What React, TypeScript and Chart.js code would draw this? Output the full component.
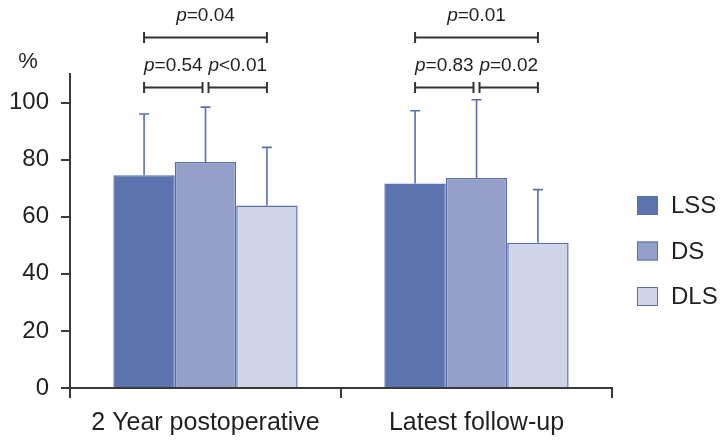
import React, { useEffect, useRef } from "react";
import { Chart, registerables } from "chart.js";

Chart.register(...registerables);

const categories = ["2 Year postoperative", "Latest follow-up"];
const seriesNames = ["LSS", "DS", "DLS"];
const lssMean = [74.5, 71.6];
const lssSD = [21.5, 25.5];
const dsMean = [79.2, 73.6];
const dsSD = [19.2, 27.4];
const dlsMean = [63.9, 50.9];
const dlsSD = [20.4, 18.6];
const yTickValues = [0, 20, 40, 60, 80, 100];
const yUnit = "%";

// significance comparisons: category index, from series, to series, level, operator, value
const compCategory = [0, 0, 0, 1, 1, 1];
const compFrom = [0, 0, 1, 0, 0, 1];
const compTo = [2, 1, 2, 2, 1, 2];
const compLevel = ["upper", "lower", "lower", "upper", "lower", "lower"];
const compOp = ["=", "=", "<", "=", "=", "="];
const compValue = ["0.04", "0.54", "0.01", "0.01", "0.83", "0.02"];

const fills = ["#5b73ae", "#949fca", "#d1d5ea"];
const edge = "#5a6fab";
const axisColor = "#3a3a3a";
const textColor = "#231f20";
const FONT = "'Liberation Sans', Arial, Helvetica, sans-serif";

const sds = [lssSD, dsSD, dlsSD];

const overlay = {
  id: "overlay",
  afterDraw(chart: any) {
    const ctx = chart.ctx;
    const y = chart.scales.y;
    // error bars
    chart.data.datasets.forEach((ds: any, di: number) => {
      const meta = chart.getDatasetMeta(di);
      meta.data.forEach((bar: any, i: number) => {
        const top = y.getPixelForValue(ds.data[i] + sds[di][i]);
        ctx.save();
        ctx.strokeStyle = edge;
        ctx.lineWidth = 1.6;
        ctx.beginPath();
        ctx.moveTo(bar.x, bar.y);
        ctx.lineTo(bar.x, top);
        ctx.moveTo(bar.x - 5, top);
        ctx.lineTo(bar.x + 5, top);
        ctx.stroke();
        ctx.restore();
      });
    });

    // significance brackets
    const area = chart.chartArea;
    for (let k = 0; k < compCategory.length; k++) {
      const c = compCategory[k];
      const b1 = chart.getDatasetMeta(compFrom[k]).data[c];
      const b2 = chart.getDatasetMeta(compTo[k]).data[c];
      let x1 = b1.x;
      let x2 = b2.x;
      const upper = compLevel[k] === "upper";
      if (!upper) {
        if (compFrom[k] === 1) x1 += 3;
        if (compTo[k] === 1) x2 -= 3;
      }
      const by = upper ? area.top - 36.5 : area.top + 13.5;
      ctx.save();
      ctx.strokeStyle = "#333333";
      ctx.lineWidth = 2;
      ctx.beginPath();
      ctx.moveTo(x1, by);
      ctx.lineTo(x2, by);
      ctx.moveTo(x1, by - 5.5);
      ctx.lineTo(x1, by + 5.5);
      ctx.moveTo(x2, by - 5.5);
      ctx.lineTo(x2, by + 5.5);
      ctx.stroke();
      // text
      const rest = compOp[k] + compValue[k];
      ctx.fillStyle = textColor;
      ctx.textBaseline = "middle";
      ctx.textAlign = "left";
      ctx.font = "italic 19px " + FONT;
      const wp = ctx.measureText("p").width;
      ctx.font = "19px " + FONT;
      const wr = ctx.measureText(rest).width;
      const cx = (x1 + x2) / 2;
      const tx = cx - (wp + wr) / 2;
      const ty = by - 22;
      ctx.font = "italic 19px " + FONT;
      ctx.fillText("p", tx, ty);
      ctx.font = "19px " + FONT;
      ctx.fillText(rest, tx + wp, ty);
      ctx.restore();
    }

    // unit label
    ctx.save();
    ctx.fillStyle = textColor;
    ctx.font = "22px " + FONT;
    ctx.textAlign = "center";
    ctx.textBaseline = "middle";
    ctx.fillText(yUnit, area.left - 42, area.top - 12);
    ctx.restore();

    // legend
    const lx = area.right + 25;
    const midY = (area.top + area.bottom) / 2;
    chart.data.datasets.forEach((ds: any, di: number) => {
      const cy = midY + 20 + (di - 1) * 45.5;
      ctx.save();
      ctx.fillStyle = ds.backgroundColor;
      ctx.fillRect(lx, cy - 9.5, 21, 19);
      ctx.strokeStyle = edge;
      ctx.lineWidth = 1;
      ctx.strokeRect(lx + 0.5, cy - 9, 20, 18);
      ctx.fillStyle = textColor;
      ctx.font = "24px " + FONT;
      ctx.textAlign = "left";
      ctx.textBaseline = "middle";
      ctx.fillText(ds.label, lx + 34, cy + 1);
      ctx.restore();
    });
  },
};

export default function App() {
  const ref = useRef<HTMLCanvasElement | null>(null);
  useEffect(() => {
    document.body.style.margin = "0";
    const canvas = ref.current;
    if (!canvas) return;
    const means = [lssMean, dsMean, dlsMean];
    const chart = new Chart(canvas, {
      type: "bar",
      data: {
        labels: categories,
        datasets: seriesNames.map((name, i) => ({
          label: name,
          data: means[i],
          backgroundColor: fills[i],
          borderColor: edge,
          borderWidth: 1.5,
          categoryPercentage: 0.68,
          barPercentage: 1.0,
        })),
      },
      options: {
        animation: false,
        responsive: false,
        devicePixelRatio: 1,
        layout: { padding: { left: 9, right: 113, top: 74, bottom: 0 } },
        plugins: { legend: { display: false }, tooltip: { enabled: false } },
        scales: {
          x: {
            type: "category",
            offset: true,
            afterFit: (scale: any) => {
              scale.height = 58;
            },
            grid: {
              offset: true,
              drawOnChartArea: false,
              drawTicks: true,
              tickLength: 10,
              color: axisColor,
              lineWidth: 2,
            },
            border: { display: true, color: axisColor, width: 2 },
            ticks: { color: textColor, font: { family: FONT, size: 25 }, padding: 10 },
          },
          y: {
            type: "linear",
            min: 0,
            max: 110,
            afterFit: (scale: any) => {
              scale.width = 61;
            },
            afterBuildTicks: (scale: any) => {
              scale.ticks = yTickValues.map((v) => ({ value: v }));
            },
            grid: {
              drawOnChartArea: false,
              drawTicks: true,
              tickLength: 9,
              color: axisColor,
              lineWidth: 2,
            },
            border: { display: true, color: axisColor, width: 2 },
            ticks: { color: textColor, font: { family: FONT, size: 24 }, padding: 12 },
          },
        },
      },
      plugins: [overlay],
    });
    return () => chart.destroy();
  }, []);
  return (
    <div style={{ width: 725, height: 446, position: "relative" }}>
      <canvas ref={ref} width={725} height={446} />
    </div>
  );
}
